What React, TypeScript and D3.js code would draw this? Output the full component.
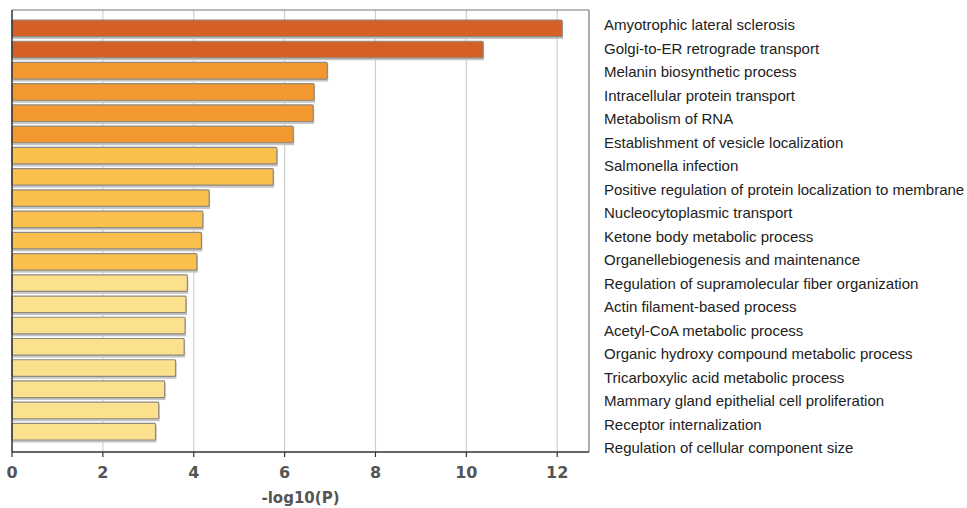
import * as d3 from 'd3'

const values = [12.11, 10.37, 6.94, 6.65, 6.63, 6.19, 5.83, 5.75, 4.34, 4.2, 4.17, 4.07, 3.86, 3.83, 3.81, 3.79, 3.6, 3.36, 3.23, 3.16]

const terms = [
  'Amyotrophic lateral sclerosis',
  'Golgi-to-ER retrograde transport',
  'Melanin biosynthetic process',
  'Intracellular protein transport',
  'Metabolism of RNA',
  'Establishment of vesicle localization',
  'Salmonella infection',
  'Positive regulation of protein localization to membrane',
  'Nucleocytoplasmic transport',
  'Ketone body metabolic process',
  'Organellebiogenesis and maintenance',
  'Regulation of supramolecular fiber organization',
  'Actin filament-based process',
  'Acetyl-CoA metabolic process',
  'Organic hydroxy compound metabolic process',
  'Tricarboxylic acid metabolic process',
  'Mammary gland epithelial cell proliferation',
  'Receptor internalization',
  'Regulation of cellular component size'
]

const xTicks = [0, 2, 4, 6, 8, 10, 12]

const W = 967
const H = 508

export default function App() {
  const left = 12
  const right = 589
  const top = 10
  const bottom = 452

  const x = d3.scaleLinear().domain([0, 12.7]).range([left, right])
  const y = d3.scaleBand<number>().domain(d3.range(values.length)).range([20, 440]).paddingInner(0.22)
  const labelY = d3.scalePoint<string>().domain(terms).range([25, 448])
  const color = d3.scaleThreshold<number, string>()
    .domain([4, 6, 10])
    .range(['#fbe08e', '#fbbf4c', '#f3982f', '#d45f27'])

  return (
    <svg width={W} height={H} style={{ position: 'absolute', left: 0, top: 0, background: '#fff' }}>
      {/* grid */}
      {xTicks.slice(1).map(t => (
        <line key={'g' + t} x1={x(t)} x2={x(t)} y1={top} y2={bottom} stroke="#cfcfcf" strokeWidth={1.2} />
      ))}

      {/* shadows */}
      {values.map((v, i) => (
        <rect key={'s' + i} x={left} y={y(i)! + 2.5} width={x(v) - left + 1} height={y.bandwidth()} fill="#c6c6c6" />
      ))}

      {/* bars */}
      {values.map((v, i) => (
        <rect key={'b' + i} x={left} y={y(i)} width={x(v) - left} height={y.bandwidth()}
          fill={color(v)} stroke="#8f8a80" strokeWidth={1.2} rx={1} />
      ))}

      {/* frame */}
      <line x1={left} x2={right} y1={top} y2={top} stroke="#777" strokeWidth={1.2} />
      <line x1={right} x2={right} y1={top} y2={bottom} stroke="#777" strokeWidth={1.2} />
      <line x1={left} x2={left} y1={top} y2={bottom} stroke="#333" strokeWidth={1.5} />
      <line x1={left} x2={right} y1={bottom} y2={bottom} stroke="#333" strokeWidth={1.5} />

      {/* x axis */}
      {xTicks.map(t => (
        <g key={'t' + t} transform={`translate(${x(t)},0)`}>
          <line y1={bottom} y2={bottom + 5} stroke="#333" strokeWidth={1.2} />
          <text y={478} textAnchor="middle" fontFamily="DejaVu Sans" fontWeight="bold" fontSize={16} fill="#555">
            {t}
          </text>
        </g>
      ))}
      <text x={(left + right) / 2} y={503} textAnchor="middle" fontFamily="DejaVu Sans" fontWeight="bold"
        fontSize={15} fill="#555">-log10(P)</text>

      {/* term labels */}
      {terms.map(t => (
        <text key={t} x={604} y={labelY(t)} dy="0.35em" fontFamily="Liberation Sans, Arial" fontSize={15} fill="#222">
          {t}
        </text>
      ))}
    </svg>
  )
}
